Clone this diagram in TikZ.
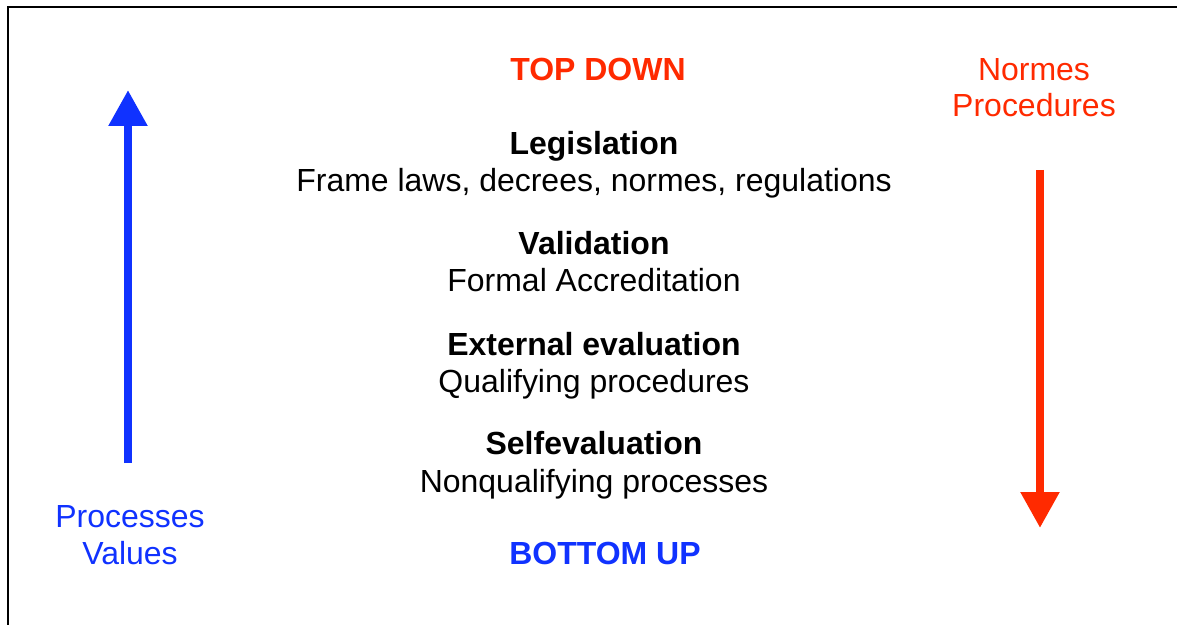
\documentclass[tikz,border=0pt]{standalone}
\usepackage{fontspec}
\setmainfont{Liberation Sans}
\usetikzlibrary{arrows.meta}
\definecolor{tdred}{RGB}{255,42,0}
\definecolor{bublue}{RGB}{16,50,255}
\tikzset{
	txt/.style={anchor=base, font=\fontsize{18.2}{20.5}\selectfont},
	hd/.style={txt, font=\fontsize{18.2}{20.5}\selectfont\bfseries},
	bigarrow/.style={line width=4.8pt, -{Triangle[width=0.74cm,length=0.72cm]}},
}
\begin{document}
\begin{tikzpicture}[x=0.02cm, y=-0.02cm]
	\useasboundingbox (0,0) rectangle (1177,625);
	% frame, open to the right and bottom
	\draw[line width=1.2pt] (8,625) -- (8,7) -- (1177,7);
	% centre column
	\node[hd, tdred] (topdown) at (598,81) {TOP DOWN};
	\node[hd] (legis) at (594,154) {Legislation};
	\node[txt] (legisdesc) at (594,192) {Frame laws, decrees, normes, regulations};
	\node[hd] (valid) at (594,255) {Validation};
	\node[txt] (validdesc) at (594,291) {Formal Accreditation};
	\node[hd] (exteval) at (594,355) {External evaluation};
	\node[txt] (extevaldesc) at (594,392) {Qualifying procedures};
	\node[hd] (selfeval) at (594,454) {Selfevaluation};
	\node[txt] (selfevaldesc) at (594,492) {Nonqualifying processes};
	\node[hd, bublue] (bottomup) at (605,564) {BOTTOM UP};
	% side labels (base = last line)
	\node[txt, tdred, align=center] (normes) at (1034,117) {Normes\\Procedures};
	\node[txt, bublue, align=center] (processes) at (130,564) {Processes\\Values};
	% arrows
	\coordinate (upfoot) at (128,463);
	\coordinate (uptip) at (128,90);
	\coordinate (downfoot) at (1040,170);
	\coordinate (downtip) at (1040,528);
	\draw[bigarrow, bublue] (upfoot) -- (uptip);
	\draw[bigarrow, tdred] (downfoot) -- (downtip);
\end{tikzpicture}
\end{document}
